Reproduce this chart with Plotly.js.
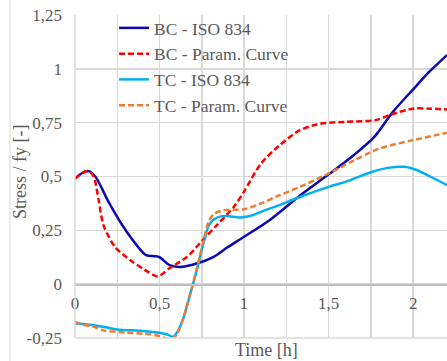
<!DOCTYPE html>
<html>
<head>
<meta charset="utf-8">
<script src="https://cdn.plot.ly/plotly-3.0.1.min.js"></script>
<style>html,body{margin:0;padding:0;background:#fff;}#chart{width:447px;height:361px;}</style>
</head>
<body>
<div id="chart"></div>
<script>
// ---- data (time in hours, stress / fy) ----
const seriesNames = ['BC - ISO 834', 'BC - Param. Curve', 'TC - ISO 834', 'TC - Param. Curve'];

const bcIsoX = [0, 0.04, 0.08, 0.12, 0.2, 0.3, 0.42, 0.47, 0.5, 0.56, 0.62, 0.72, 0.82, 0.9, 1.0, 1.15, 1.32, 1.5, 1.65, 1.77, 1.88, 2.0, 2.1, 2.2];
const bcIsoY = [0.49, 0.515, 0.525, 0.5, 0.38, 0.25, 0.135, 0.13, 0.125, 0.088, 0.08, 0.096, 0.127, 0.17, 0.22, 0.297, 0.405, 0.51, 0.6, 0.684, 0.8, 0.905, 0.99, 1.064];

const bcParX = [0, 0.04, 0.08, 0.11, 0.14, 0.17, 0.24, 0.33, 0.41, 0.49, 0.56, 0.66, 0.75, 0.84, 0.94, 1.0, 1.1, 1.21, 1.33, 1.45, 1.6, 1.78, 1.87, 2.0, 2.1, 2.2];
const bcParY = [0.49, 0.515, 0.525, 0.5, 0.39, 0.27, 0.17, 0.11, 0.068, 0.036, 0.075, 0.125, 0.2, 0.275, 0.36, 0.43, 0.56, 0.645, 0.715, 0.745, 0.754, 0.762, 0.788, 0.815, 0.815, 0.811];

const tcIsoX = [0, 0.05, 0.1, 0.18, 0.25, 0.4, 0.5, 0.55, 0.58, 0.61, 0.64, 0.68, 0.72, 0.76, 0.79, 0.82, 0.86, 0.9, 0.98, 1.05, 1.1, 1.2, 1.33, 1.5, 1.6, 1.75, 1.85, 1.95, 2.02, 2.1, 2.2];
const tcIsoY = [-0.183, -0.185, -0.19, -0.2, -0.21, -0.217, -0.226, -0.235, -0.245, -0.215, -0.16, -0.05, 0.065, 0.19, 0.27, 0.3, 0.315, 0.316, 0.31, 0.32, 0.336, 0.365, 0.405, 0.452, 0.475, 0.52, 0.54, 0.545, 0.53, 0.5, 0.46];

const tcParX = [0, 0.05, 0.1, 0.17, 0.3, 0.4, 0.48, 0.54, 0.57, 0.6, 0.64, 0.68, 0.72, 0.76, 0.79, 0.82, 0.86, 0.9, 1.0, 1.1, 1.2, 1.33, 1.5, 1.65, 1.8, 2.0, 2.2];
const tcParY = [-0.175, -0.19, -0.195, -0.215, -0.225, -0.23, -0.237, -0.252, -0.255, -0.235, -0.16, -0.05, 0.07, 0.2, 0.29, 0.325, 0.34, 0.345, 0.348, 0.375, 0.41, 0.452, 0.514, 0.575, 0.63, 0.669, 0.703];

const xTickVals = [0, 0.5, 1, 1.5, 2];
const xTickText = ['0', '0,5', '1', '1,5', '2'];
const yTickVals = [-0.25, 0, 0.25, 0.5, 0.75, 1, 1.25];
const yTickText = ['-0,25', '0', '0,25', '0,5', '0,75', '1', '1,25'];

const xTitle = 'Time [h]';
const yTitle = 'Stress / fy [-]';

// ---- styling ----
const font = "'Liberation Serif', 'Times New Roman', serif";
const grey = '#595959';
const grid = '#d9d9d9';

function tr(x, y, name, color, dash) {
  return {
    x: x, y: y, name: name, type: 'scatter', mode: 'lines',
    line: {color: color, width: 2.5, dash: dash, shape: 'spline', smoothing: 0.8},
    hoverinfo: 'skip'
  };
}

const data = [
  tr(bcIsoX, bcIsoY, seriesNames[0], '#0a0ab4', 'solid'),
  tr(bcParX, bcParY, seriesNames[1], '#ff0000', '6px,3px'),
  tr(tcIsoX, tcIsoY, seriesNames[2], '#00b0f0', 'solid'),
  tr(tcParX, tcParY, seriesNames[3], '#ed7d31', '6px,3px')
];

const yMin = -0.25, yMax = 1.25;
const layout = {
  width: 447, height: 361,
  margin: {l: 75, r: 0, t: 15, b: 23},
  paper_bgcolor: '#ffffff', plot_bgcolor: '#ffffff',
  font: {family: font, size: 17, color: grey},
  showlegend: true,
  legend: {
    x: 0.105, y: (338 - 10) / 323, xanchor: 'left', yanchor: 'top',
    bgcolor: 'rgba(0,0,0,0)', borderwidth: 0,
    font: {family: font, size: 17.5, color: grey},
    tracegroupgap: 0
  },
  xaxis: {
    range: [0, 2.2],
    anchor: 'free',
    position: (0 - yMin) / (yMax - yMin),
    tickmode: 'array', tickvals: xTickVals, ticktext: xTickText,
    showgrid: true, gridcolor: grid, gridwidth: 1.5,
    minor: {dtick: 0.25, showgrid: true, gridcolor: grid, gridwidth: 1.5},
    showline: true, linecolor: '#bfbfbf', linewidth: 1.5,
    zeroline: false, ticks: '',
    ticklabelstandoff: 3,
    tickfont: {family: font, size: 17, color: grey},
    fixedrange: true
  },
  yaxis: {
    range: [yMin, yMax],
    tickmode: 'array', tickvals: yTickVals, ticktext: yTickText,
    showgrid: true, gridcolor: grid, gridwidth: 1.5,
    zeroline: false, showline: false, ticks: '',
    ticklabelstandoff: 12,
    tickfont: {family: font, size: 17, color: grey},
    fixedrange: true
  },
  shapes: [
    {type: 'rect', xref: 'paper', yref: 'paper', layer: 'between',
     x0: (97 - 75) / 372, x1: (305 - 75) / 372, y0: (338 - 121) / 323, y1: (338 - 22) / 323,
     fillcolor: '#ffffff', line: {width: 0}},
    {type: 'line', xref: 'paper', yref: 'paper', x0: 0, x1: 0, y0: 0, y1: 1,
     line: {color: grid, width: 1.5}},
    {type: 'line', xref: 'paper', yref: 'paper', x0: 0, x1: 1, y0: 0, y1: 0,
     line: {color: grid, width: 1.5}},
    {type: 'line', xref: 'paper', yref: 'paper', x0: (10 - 75) / 372, x1: (10 - 75) / 372, y0: -0.08, y1: 1.1,
     line: {color: grid, width: 1}}
  ],
  annotations: [
    {text: xTitle, xref: 'paper', yref: 'paper', x: (266 - 75) / 372, y: (338 - 350) / 323,
     xanchor: 'center', yanchor: 'middle', showarrow: false,
     font: {family: font, size: 18, color: grey}},
    {text: yTitle, xref: 'paper', yref: 'paper', x: (20 - 75) / 372, y: (338 - 172) / 323,
     xanchor: 'center', yanchor: 'middle', showarrow: false, textangle: -90,
     font: {family: font, size: 18, color: grey}}
  ]
};

Plotly.newPlot('chart', data, layout, {displayModeBar: false, staticPlot: true});
</script>
</body>
</html>
